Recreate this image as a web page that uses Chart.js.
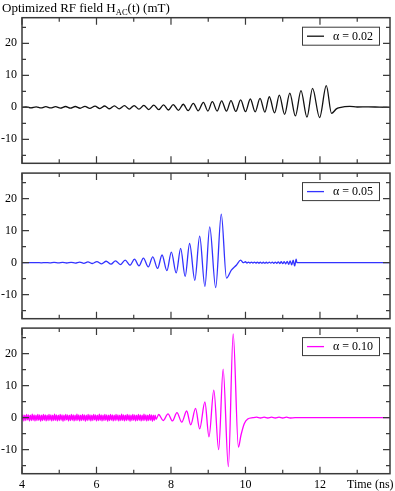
<!DOCTYPE html>
<html>
<head>
<meta charset="utf-8">
<script src="https://cdn.jsdelivr.net/npm/chart.js@4.4.1/dist/chart.umd.min.js"></script>
<style>
  body { margin: 0; width: 395px; height: 491px; background: #fff; position: relative; overflow: hidden; font-family: 'Liberation Serif', serif; }
  .panel { position: absolute; left: 0; }
  #title { position: absolute; left: 2px; top: 0px; font-size: 13px; white-space: nowrap; z-index: 2; }
  #title sub { font-size: 8.5px; vertical-align: -3px; }
  #xlabel { position: absolute; left: 347px; top: 477px; font-size: 12px; white-space: nowrap; z-index: 2; }
</style>
</head>
<body>
<div id="title">Optimized RF field H<sub>AC</sub>(t) (mT)</div>
<canvas id="panel1" class="panel" width="395" height="178" style="top:0px"></canvas>
<canvas id="panel2" class="panel" width="395" height="175" style="top:158px"></canvas>
<canvas id="panel3" class="panel" width="395" height="178" style="top:313px"></canvas>
<div id="xlabel">Time (ns)</div>
<script>
// alpha = 0.02
const times1 = [4.00, 4.11, 4.24, 4.38, 4.51, 4.64, 4.77, 4.90, 5.03, 5.17,
    5.30, 5.43, 5.56, 5.69, 5.82, 5.96, 6.09, 6.22, 6.35, 6.48,
    6.61, 6.75, 6.88, 7.01, 7.14, 7.27, 7.40, 7.54, 7.67, 7.80,
    7.93, 8.06, 8.20, 8.33, 8.46, 8.60, 8.73, 8.87, 8.99, 9.11,
    9.24, 9.36, 9.49, 9.61, 9.74, 9.87, 10.00, 10.13, 10.26, 10.39,
    10.52, 10.64, 10.78, 10.91, 11.05, 11.19, 11.34, 11.49, 11.65, 11.80,
    11.99, 12.17, 12.31, 12.44, 12.53, 12.80, 13.00, 13.30, 13.60, 13.88];
const field1 = [0.0, 0.15, -0.15, 0.15, -0.2, 0.2, -0.2, 0.2, -0.25, 0.25,
    -0.25, 0.25, -0.3, 0.3, -0.35, 0.35, -0.4, 0.4, -0.45, 0.45,
    -0.5, 0.5, -0.55, 0.55, -0.6, 0.6, -0.7, 0.7, -0.75, 0.75,
    -0.85, 0.85, -0.95, 0.95, -1.05, 1.25, -1.1, 1.55, -1.15, 1.75,
    -1.15, 2.0, -1.2, 2.1, -1.3, 2.3, -1.35, 2.6, -1.4, 2.8,
    -1.5, 3.3, -1.75, 3.8, -2.2, 4.4, -2.7, 5.2, -3.1, 5.9,
    -3.2, 6.75, -1.9, -0.5, -0.1, 0.3, 0.1, 0.15, 0.05, 0.0];

// alpha = 0.05
const times2 = [4.00, 4.40, 4.52, 4.63, 4.75, 4.86, 4.98, 5.09, 5.20, 5.32,
    5.43, 5.55, 5.66, 5.77, 5.89, 6.01, 6.14, 6.26, 6.39, 6.51,
    6.64, 6.77, 6.90, 7.02, 7.14, 7.26, 7.39, 7.51, 7.64, 7.76,
    7.89, 8.01, 8.14, 8.26, 8.38, 8.50, 8.64, 8.77, 8.91, 9.04,
    9.20, 9.35, 9.49, 9.62, 9.76, 9.87, 9.94, 10.00,
    10.04, 10.08, 10.12, 10.16, 10.20, 10.24, 10.28, 10.32, 10.36, 10.40,
    10.44, 10.48, 10.52, 10.56, 10.60, 10.64, 10.68, 10.72, 10.76, 10.80,
    10.84, 10.88, 10.92, 10.96, 11.00, 11.04, 11.08, 11.12, 11.16, 11.20,
    11.24, 11.28, 11.32, 11.36, 11.38, 13.88];
const field2 = [0.0, 0.03, -0.03, 0.05, -0.05, 0.08, -0.08, 0.1, -0.1, 0.12,
    -0.12, 0.18, -0.18, 0.25, -0.25, 0.35, -0.35, 0.45, -0.45, 0.6,
    -0.6, 0.8, -0.8, 1.1, -1.0, 1.45, -1.3, 1.85, -1.8, 2.4,
    -2.5, 3.3, -3.2, 4.5, -4.3, 6.0, -5.5, 8.3, -7.4, 11.2,
    -7.8, 15.2, -4.8, -2.3, -0.7, 0.8, 0.0, 0.3,
    -0.1, 0.2, -0.1, 0.2, -0.1, 0.2, -0.1, 0.15, -0.1, 0.15,
    -0.15, 0.15, -0.15, 0.15, -0.15, 0.2, -0.15, 0.2, -0.2, 0.2,
    -0.2, 0.25, -0.25, 0.3, -0.3, 0.35, -0.35, 0.4, -0.5, 0.6,
    -0.7, 0.8, -1.0, 1.1, 0.0, 0.0];

// alpha = 0.10 : noisy start, then the burst
const noiseTimes3 = [4.000, 4.025, 4.050, 4.075, 4.100, 4.125, 4.150, 4.175,
    4.200, 4.225, 4.250, 4.275, 4.300, 4.325, 4.350, 4.375,
    4.400, 4.425, 4.450, 4.475, 4.500, 4.525, 4.550, 4.575,
    4.600, 4.625, 4.650, 4.675, 4.700, 4.725, 4.750, 4.775,
    4.800, 4.825, 4.850, 4.875, 4.900, 4.925, 4.950, 4.975,
    5.000, 5.025, 5.050, 5.075, 5.100, 5.125, 5.150, 5.175,
    5.200, 5.225, 5.250, 5.275, 5.300, 5.325, 5.350, 5.375,
    5.400, 5.425, 5.450, 5.475, 5.500, 5.525, 5.550, 5.575,
    5.600, 5.625, 5.650, 5.675, 5.700, 5.725, 5.750, 5.775,
    5.800, 5.825, 5.850, 5.875, 5.900, 5.925, 5.950, 5.975,
    6.000, 6.025, 6.050, 6.075, 6.100, 6.125, 6.150, 6.175,
    6.200, 6.225, 6.250, 6.275, 6.300, 6.325, 6.350, 6.375,
    6.400, 6.425, 6.450, 6.475, 6.500, 6.525, 6.550, 6.575,
    6.600, 6.625, 6.650, 6.675, 6.700, 6.725, 6.750, 6.775,
    6.800, 6.825, 6.850, 6.875, 6.900, 6.925, 6.950, 6.975,
    7.000, 7.025, 7.050, 7.075, 7.100, 7.125, 7.150, 7.175,
    7.200, 7.225, 7.250, 7.275, 7.300, 7.325, 7.350, 7.375,
    7.400, 7.425, 7.450, 7.475, 7.500, 7.525, 7.550, 7.575];
const noiseField3 = [-0.8, 0.9, -1.0, 0.8, -0.9, 1.0, -0.7, 0.9,
    -1.0, 0.8, -0.9, 1.1, -0.8, 0.9, -1.0, 0.8,
    -0.9, 1.0, -0.8, 0.9, -1.1, 0.8, -0.9, 1.0,
    -0.8, 0.9, -1.0, 0.8, -0.9, 1.0, -0.8, 0.9,
    -1.0, 0.8, -0.9, 1.1, -0.8, 0.9, -1.0, 0.8,
    -0.9, 1.0, -0.8, 0.9, -1.1, 0.8, -0.9, 1.0,
    -0.7, 0.9, -1.0, 0.8, -0.9, 1.0, -0.8, 0.9,
    -1.0, 0.8, -0.9, 1.1, -0.8, 0.9, -1.0, 0.8,
    -0.9, 1.0, -0.8, 0.9, -1.1, 0.8, -0.9, 1.0,
    -0.8, 0.9, -1.0, 0.8, -0.9, 1.0, -0.7, 0.9,
    -1.0, 0.8, -0.9, 1.1, -0.8, 0.9, -1.0, 0.8,
    -0.9, 1.0, -0.8, 0.9, -1.1, 0.8, -0.9, 1.0,
    -0.8, 0.9, -1.0, 0.8, -0.9, 1.0, -0.8, 0.9,
    -1.0, 0.8, -0.9, 1.1, -0.8, 0.9, -1.0, 0.8,
    -0.9, 1.0, -0.8, 0.9, -1.1, 0.8, -0.9, 1.0,
    -0.8, 0.9, -1.0, 0.8, -0.9, 1.0, -0.8, 0.9,
    -1.0, 0.8, -0.9, 1.1, -0.8, 0.9, -1.0, 0.8,
    -0.9, 1.0, -0.8, 0.9, -1.1, 0.8, -0.9, 0.8];
const burstTimes3 = [7.60, 7.67, 7.79, 7.92, 8.04, 8.16, 8.29, 8.42, 8.53, 8.66,
    8.77, 8.91, 9.02, 9.15, 9.28, 9.40, 9.54, 9.67, 9.81, 9.88,
    9.97, 10.06, 10.20, 10.30, 10.40, 10.50, 10.60, 10.70, 10.80, 10.90,
    11.00, 11.10, 11.20, 11.33, 13.88];
const burstField3 = [-0.5, 1.0, -0.9, 1.2, -1.0, 1.6, -1.4, 2.1, -2.2, 2.9,
    -3.5, 4.9, -6.0, 8.6, -10.0, 15.2, -15.3, 26.2, -9.2, -5.4,
    -1.8, -0.4, 0.0, 0.15, -0.1, 0.15, -0.1, 0.15, -0.1, 0.15,
    -0.1, 0.15, -0.1, 0.0, 0.0];

const xTicks = [4, 6, 8, 10, 12];
const FRAME = '#3a3a3a';
const SERIF = "'Liberation Serif', 'Times New Roman', serif";

// frame with inward ticks on all four sides + boxed legend
const framePlugin = {
    id: 'frame',
    afterDraw(chart) {
        const ctx = chart.ctx;
        const a = chart.chartArea;
        const xs = chart.scales.x;
        const ys = chart.scales.y;
        ctx.save();
        ctx.strokeStyle = FRAME;
        ctx.lineWidth = 1.5;
        ctx.strokeRect(a.left, a.top, a.right - a.left, a.bottom - a.top);

        ctx.lineWidth = 1.2;
        ctx.beginPath();
        for (let v = 4; v <= 13; v++) {
            const len = xTicks.includes(v) ? 7 : 4;
            const px = xs.getPixelForValue(v);
            ctx.moveTo(px, a.top); ctx.lineTo(px, a.top + len);
            ctx.moveTo(px, a.bottom); ctx.lineTo(px, a.bottom - len);
        }
        for (let v = -15; v <= 25; v += 5) {
            const len = v % 10 === 0 ? 7 : 4;
            const py = ys.getPixelForValue(v);
            ctx.moveTo(a.left, py); ctx.lineTo(a.left + len, py);
            ctx.moveTo(a.right, py); ctx.lineTo(a.right - len, py);
        }
        ctx.stroke();

        // legend
        const ds = chart.data.datasets[0];
        const bx = a.right - 88, by = a.top + 9, bw = 77, bh = 18;
        ctx.fillStyle = '#fff';
        ctx.fillRect(bx, by, bw, bh);
        ctx.strokeStyle = FRAME;
        ctx.lineWidth = 1;
        ctx.strokeRect(bx + 0.5, by + 0.5, bw, bh);
        ctx.strokeStyle = ds.borderColor;
        ctx.lineWidth = 1.3;
        ctx.beginPath();
        ctx.moveTo(bx + 5, by + bh / 2 + 0.5);
        ctx.lineTo(bx + 22, by + bh / 2 + 0.5);
        ctx.stroke();
        ctx.fillStyle = '#000';
        ctx.font = '12px ' + SERIF;
        ctx.textBaseline = 'middle';
        ctx.fillText(ds.label, bx + 31, by + bh / 2 + 1);
        ctx.restore();
    }
};

function buildPanel(id, times, values, label, color, showX, padTop, padBottom) {
    const points = times.map((t, i) => ({ x: t, y: values[i] }));
    return new Chart(document.getElementById(id), {
        type: 'line',
        data: {
            datasets: [{
                label: label,
                data: points,
                borderColor: color,
                borderWidth: 1.3,
                pointRadius: 0,
                cubicInterpolationMode: 'monotone',
                fill: false
            }]
        },
        options: {
            responsive: false,
            animation: false,
            events: [],
            layout: { padding: { top: padTop, bottom: padBottom, left: 0, right: 5 } },
            plugins: { legend: { display: false }, tooltip: { enabled: false } },
            scales: {
                x: {
                    type: 'linear', min: 4, max: 13.88, display: showX,
                    grid: { display: false, drawTicks: false },
                    border: { display: false },
                    ticks: { stepSize: 2, includeBounds: false, padding: 4, color: '#000',
                        font: { family: SERIF, size: 12 } },
                    afterFit: s => { if (showX) s.height = 17.3; }
                },
                y: {
                    min: -17.5, max: 28,
                    grid: { display: false, drawTicks: false },
                    border: { display: false },
                    ticks: { stepSize: 10, includeBounds: false, padding: 5, color: '#000',
                        font: { family: SERIF, size: 12 } },
                    afterFit: s => { s.width = 22; }
                }
            }
        },
        plugins: [framePlugin]
    });
}

buildPanel('panel1', times1, field1, 'α = 0.02', '#111111', false, 17.7, 14.7);
buildPanel('panel2', times2, field2, 'α = 0.05', '#3333ff', false, 15.1, 14.3);
buildPanel('panel3', noiseTimes3.concat(burstTimes3), noiseField3.concat(burstField3),
    'α = 0.10', '#ff00ff', true, 15.1, 0);
</script>
</body>
</html>
